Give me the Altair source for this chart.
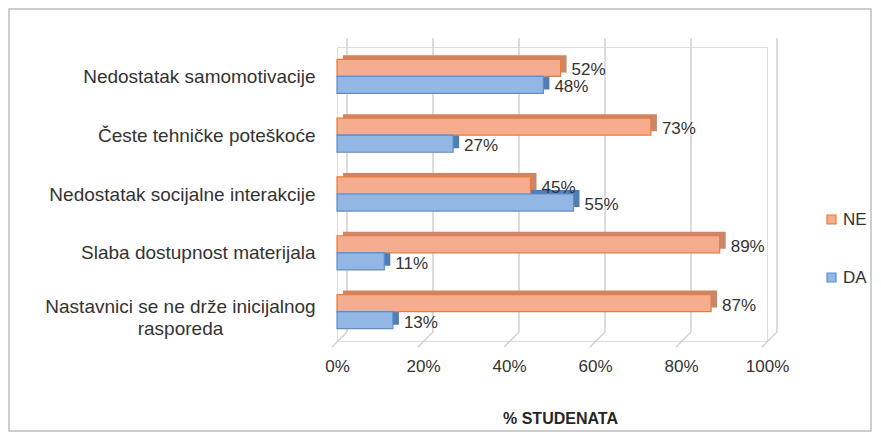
import json
import altair as alt
import pandas as pd

# ---- data ----
CATEGORIES = [
    "Nedostatak samomotivacije",
    "Česte tehničke poteškoće",
    "Nedostatak socijalne interakcije",
    "Slaba dostupnost materijala",
    "Nastavnici se ne drže inicijalnog rasporeda",
]
CATEGORY_LINES = [
    ["Nedostatak samomotivacije"],
    ["Česte tehničke poteškoće"],
    ["Nedostatak socijalne interakcije"],
    ["Slaba dostupnost materijala"],
    ["Nastavnici se ne drže inicijalnog", "rasporeda"],
]
NE = [52, 73, 45, 89, 87]
DA = [48, 27, 55, 11, 13]
SERIES = ["NE", "DA"]
TICKS = [0, 20, 40, 60, 80, 100]
X_TITLE = "% STUDENATA"

# ---- styling ----
FONT = "Liberation Sans"
NE_FILL, NE_STROKE, NE_DEPTH = "#F6AD8F", "#EC7B35", "#C9866A"
DA_FILL, DA_STROKE, DA_DEPTH = "#93B7E4", "#5A8ECF", "#4F7DB5"
TEXT = "#333333"
GRID = "#D0D0D0"
HALF = 0.29  # half of a category's pair height, in category units

rows = []
for i, cat in enumerate(CATEGORIES):
    for s, vals in (("NE", NE), ("DA", DA)):
        v = vals[i]
        y0, y1 = (i - HALF, i) if s == "NE" else (i, i + HALF)
        rows.append({"category": cat, "idx": i, "series": s, "value": v,
                     "start": 0, "y0": y0, "y1": y1, "ymid": (y0 + y1) / 2,
                     "label": f"{v}%"})
df = pd.DataFrame(rows)
ticks_df = pd.DataFrame({"tick": TICKS})
one = pd.DataFrame({"a": [0]})

W, H = 430, 294
xscale = alt.Scale(domain=[0, 100], nice=False, zero=True)
yscale = alt.Scale(domain=[-0.5, 4.5], reverse=True, nice=False, zero=False)

label_expr = json.dumps(CATEGORY_LINES, ensure_ascii=False) + "[datum.value]"
two_line = "datum.value == 4"

XAXIS = alt.Axis(values=TICKS, labelExpr="datum.value + '%'", title=X_TITLE,
                 domain=False, ticks=False, tickSize=0, grid=False, labelFlush=False,
                 labelFontSize=17, labelColor=TEXT, labelPadding=17, labelFont=FONT,
                 titleFont=FONT, titleFontSize=16, titleFontWeight="bold",
                 titleColor="#262626", titleX=223, titleY=77,
                 titleBaseline="middle", titleAlign="center")
YAXIS = alt.Axis(values=[0, 1, 2, 3, 4], labelExpr=label_expr, title=None,
                 domain=False, ticks=False, tickSize=0, grid=False,
                 labelFontSize=19, labelColor=TEXT, labelFont=FONT,
                 labelLineHeight=22, labelBaseline="middle",
                 labelAlign={"condition": {"test": two_line, "value": "center"}, "value": "right"},
                 labelPadding={"condition": {"test": two_line, "value": 157}, "value": 22},
                 labelOffset={"condition": {"test": two_line, "value": -5}, "value": 0},
                 labelBound=False, labelOverlap=False, labelLimit=400)
LEGEND = alt.Legend(title=None, orient="none", legendX=486, legendY=164,
                    direction="vertical", symbolType="square", symbolSize=81,
                    labelFontSize=17, labelFont=FONT, labelColor=TEXT,
                    rowPadding=40, labelOffset=3, symbolStrokeWidth=1.2)

frame = alt.Chart(one).mark_rect(fill=None, stroke="#BFBFBF", strokeWidth=1.5).encode(
    x=alt.value(-328), x2=alt.value(534), y=alt.value(-38), y2=alt.value(384)
)

grid = alt.Chart(ticks_df).mark_rule(color=GRID, strokeWidth=1.5, xOffset=10).encode(
    x=alt.X("tick:Q", scale=xscale, axis=XAXIS),
    y=alt.value(-9), y2=alt.value(285),
)
feet = alt.Chart(ticks_df).mark_rule(color=GRID, strokeWidth=1.5, xOffset=10, x2Offset=-5).encode(
    x=alt.X("tick:Q", scale=xscale, axis=XAXIS),
    x2=alt.X2("tick:Q"),
    y=alt.value(285), y2=alt.value(300),
)

depth = alt.Chart(df).mark_bar(xOffset=6, x2Offset=6, yOffset=-4, y2Offset=-4, strokeWidth=0).encode(
    x=alt.X("start:Q", scale=xscale, axis=XAXIS),
    x2="value:Q",
    y=alt.Y("y0:Q", scale=yscale, axis=YAXIS),
    y2="y1:Q",
    fill=alt.condition(alt.datum.series == "NE", alt.value(NE_DEPTH), alt.value(DA_DEPTH)),
)

bars = alt.Chart(df).mark_bar(strokeWidth=1.2).encode(
    x=alt.X("start:Q", scale=xscale, axis=XAXIS),
    x2="value:Q",
    y=alt.Y("y0:Q", scale=yscale, axis=YAXIS),
    y2="y1:Q",
    fill=alt.Fill("series:N", scale=alt.Scale(domain=SERIES, range=[NE_FILL, DA_FILL]),
                  legend=LEGEND),
    stroke=alt.Stroke("series:N", scale=alt.Scale(domain=SERIES, range=[NE_STROKE, DA_STROKE]),
                      legend=LEGEND),
)

labels = alt.Chart(df).mark_text(align="left", baseline="middle", dx=11, dy=2.5,
                                 fontSize=17, font=FONT, color=TEXT).encode(
    x=alt.X("value:Q", scale=xscale, axis=XAXIS),
    y=alt.Y("ymid:Q", scale=yscale, axis=YAXIS),
    text="label:N",
)

chart = alt.layer(frame, grid, feet, depth, bars, labels).properties(
    width=W, height=H,
    padding={"left": 329, "top": 39, "right": 105, "bottom": 91},
    autosize=alt.AutoSizeParams(type="none"),
).configure_view(stroke=None).configure(font=FONT)

chart.save("out.html", embed_options={"renderer": "svg", "actions": False})
